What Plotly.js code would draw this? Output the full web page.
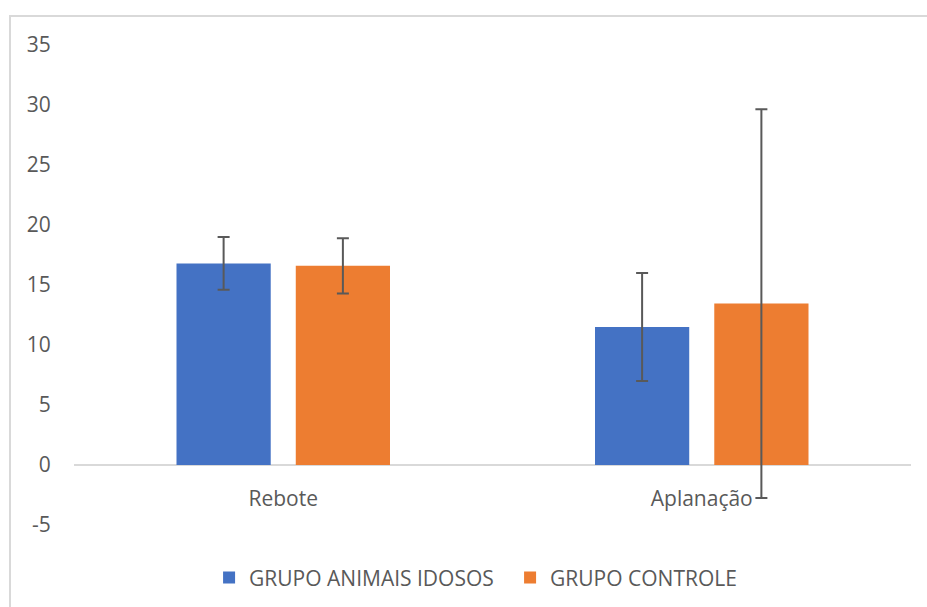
<!DOCTYPE html>
<html>
<head>
<meta charset="utf-8">
<script src="https://cdn.plot.ly/plotly-3.0.1.min.js"></script>
<style>
  html, body { margin: 0; padding: 0; background: #ffffff; }
  #wrap { position: relative; width: 927px; height: 607px; }
  #chart { position: absolute; left: 0; top: 0; width: 927px; height: 607px; }
  #frame { position: absolute; left: 9px; top: 15px; width: 930px; height: 620px;
           border: 2px solid #d9d9d9; pointer-events: none; box-sizing: border-box; }
</style>
</head>
<body>
<div id="wrap">
  <div id="chart"></div>
  <div id="frame"></div>
</div>
<script>
// ---- data ----
const categories = ["Rebote", "Aplanação"];
const seriesNames = ["GRUPO ANIMAIS IDOSOS", "GRUPO CONTROLE"];
const idososValues = [16.8, 11.5];
const idososErrors = [2.2, 4.5];
const controleValues = [16.6, 13.45];
const controleErrors = [2.3, 16.2];
const yTickValues = [-5, 0, 5, 10, 15, 20, 25, 30, 35];
const yTickLabels = ["-5", "0", "5", "10", "15", "20", "25", "30", "35"];

const FONT = "'Open Sans', 'Noto Sans', sans-serif";
const TXT = "#595959";

const errStyle = { type: "data", visible: true, color: "#595959", thickness: 2, width: 6 };

const traces = [
  {
    type: "bar", name: seriesNames[0], x: categories, y: idososValues,
    marker: { color: "#4472C4", line: { width: 0 } },
    error_y: Object.assign({ array: idososErrors }, errStyle),
    hoverinfo: "skip"
  },
  {
    type: "bar", name: seriesNames[1], x: categories, y: controleValues,
    marker: { color: "#ED7D31", line: { width: 0 } },
    error_y: Object.assign({ array: controleErrors }, errStyle),
    hoverinfo: "skip"
  }
];

const layout = {
  width: 927, height: 607,
  margin: { l: 74, r: 16, t: 45, b: 82, pad: 0, autoexpand: false },
  paper_bgcolor: "rgba(0,0,0,0)",
  plot_bgcolor: "rgba(0,0,0,0)",
  font: { family: FONT, size: 21, color: TXT },
  barmode: "group",
  bargap: 0.43,
  bargroupgap: 0.21,
  showlegend: true,
  legend: {
    orientation: "h", x: 0.521, xanchor: "center", y: -0.11, yanchor: "middle",
    font: { family: FONT, size: 21, color: TXT },
    itemwidth: 30,
    entrywidth: 256, entrywidthmode: "pixels",
    traceorder: "normal", itemclick: false, itemdoubleclick: false
  },
  xaxis: {
    type: "category",
    range: [-0.5, 1.5],
    anchor: "free", position: 0.125,
    showgrid: false, zeroline: false,
    showline: false,
    ticks: "outside", ticklen: 15, tickcolor: "rgba(0,0,0,0)",
    tickfont: { family: FONT, size: 21, color: TXT },
    fixedrange: true
  },
  yaxis: {
    range: [-5, 35],
    tickvals: yTickValues, ticktext: yTickLabels,
    showgrid: false,
    zeroline: true, zerolinecolor: "#d9d9d9", zerolinewidth: 1.5,
    showline: false,
    ticks: "outside", ticklen: 18, tickcolor: "rgba(0,0,0,0)",
    tickfont: { family: FONT, size: 21, color: TXT },
    fixedrange: true
  }
};

Plotly.newPlot("chart", traces, layout, { staticPlot: true, displayModeBar: false });
</script>
</body>
</html>
